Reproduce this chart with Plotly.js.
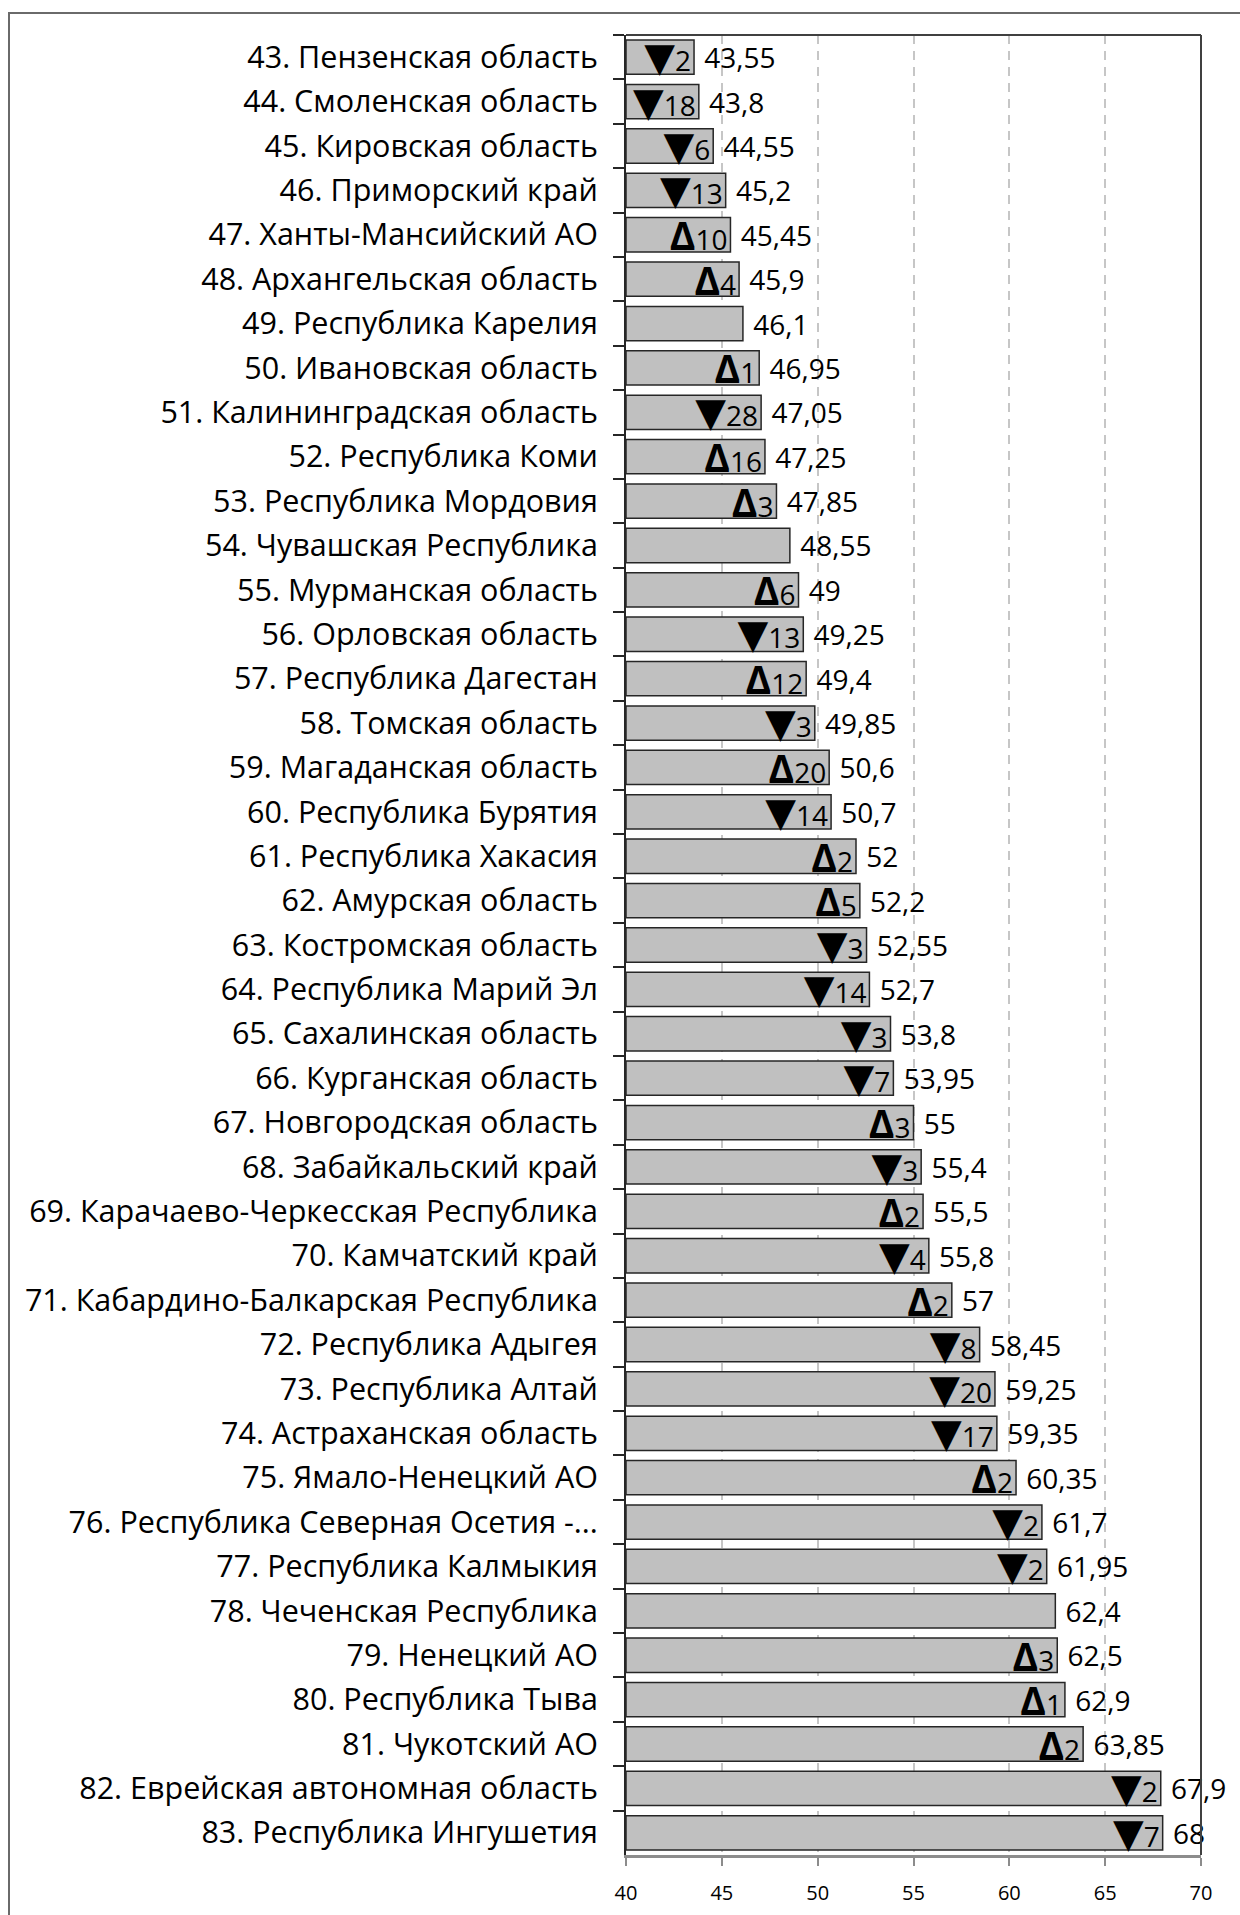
<!DOCTYPE html>
<html>
<head>
<meta charset="utf-8">
<script src="https://cdn.plot.ly/plotly-3.0.1.min.js"></script>
<style>
  html, body { margin: 0; padding: 0; background: #fff; overflow: hidden; }
  #chart { width: 1240px; height: 1915px; }
  #frame { position: absolute; left: 8px; top: 12px; width: 1300px; height: 2000px;
           border-left: 2px solid #6a6a6a; border-top: 2px solid #6a6a6a; pointer-events: none; }
</style>
</head>
<body>
<div id="chart"></div>
<div id="frame"></div>
<script>
const categories = [
  "43. Пензенская область",
  "44. Смоленская область",
  "45. Кировская область",
  "46. Приморский край",
  "47. Ханты-Мансийский АО",
  "48. Архангельская область",
  "49. Республика Карелия",
  "50. Ивановская область",
  "51. Калининградская область",
  "52. Республика Коми",
  "53. Республика Мордовия",
  "54. Чувашская Республика",
  "55. Мурманская область",
  "56. Орловская область",
  "57. Республика Дагестан",
  "58. Томская область",
  "59. Магаданская область",
  "60. Республика Бурятия",
  "61. Республика Хакасия",
  "62. Амурская область",
  "63. Костромская область",
  "64. Республика Марий Эл",
  "65. Сахалинская область",
  "66. Курганская область",
  "67. Новгородская область",
  "68. Забайкальский край",
  "69. Карачаево-Черкесская Республика",
  "70. Камчатский край",
  "71. Кабардино-Балкарская Республика",
  "72. Республика Адыгея",
  "73. Республика Алтай",
  "74. Астраханская область",
  "75. Ямало-Ненецкий АО",
  "76. Республика Северная Осетия -...",
  "77. Республика Калмыкия",
  "78. Чеченская Республика",
  "79. Ненецкий АО",
  "80. Республика Тыва",
  "81. Чукотский АО",
  "82. Еврейская автономная область",
  "83. Республика Ингушетия"
];

const values = [
  43.55, 43.8, 44.55, 45.2, 45.45, 45.9, 46.1, 46.95, 47.05, 47.25,
  47.85, 48.55, 49, 49.25, 49.4, 49.85, 50.6, 50.7, 52, 52.2,
  52.55, 52.7, 53.8, 53.95, 55, 55.4, 55.5, 55.8, 57, 58.45,
  59.25, 59.35, 60.35, 61.7, 61.95, 62.4, 62.5, 62.9, 63.85, 67.9,
  68
];

// rank change direction: "down" (▼), "up" (Δ), "" (no change)
const changeDir = [
  "down", "down", "down", "down", "up", "up", "", "up", "down", "up",
  "up", "", "up", "down", "up", "down", "up", "down", "up", "up",
  "down", "down", "down", "down", "up", "down", "up", "down", "up", "down",
  "down", "down", "up", "down", "down", "", "up", "up", "up", "down",
  "down"
];

const changeVal = [
  2, 18, 6, 13, 10, 4, null, 1, 28, 16,
  3, null, 6, 13, 12, 3, 20, 14, 2, 5,
  3, 14, 3, 7, 3, 3, 2, 4, 2, 8,
  20, 17, 2, 2, 2, null, 3, 1, 2, 2,
  7
];

const xTickVals = [40, 45, 50, 55, 60, 65, 70];
const axisStart = 40;

const FONT = "'Open Sans', 'Noto Sans', 'DejaVu Sans', sans-serif";

const badgeText = changeDir.map((d, i) => {
  if (d === "down") return '<span style="font-family:\'DejaVu Sans\';font-size:40px">▼</span>' + changeVal[i];
  if (d === "up") return '<b><span style="font-size:39px">Δ</span></b>' + changeVal[i];
  return "";
});

const valueText = values.map(v => "\u00A0" + String(v).replace(".", ","));
const barLengths = values.map(v => v - axisStart);

const barTrace = {
  type: "bar",
  orientation: "h",
  x: barLengths,
  base: axisStart,
  y: categories,
  marker: { color: "#c0c0c0", line: { color: "#262626", width: 1.5 } },
  text: badgeText,
  textposition: "inside",
  insidetextanchor: "end",
  constraintext: "none",
  textangle: 0,
  insidetextfont: { family: FONT, size: 28, color: "#000" },
  hoverinfo: "skip",
  cliponaxis: false
};

const valueTrace = {
  type: "bar",
  orientation: "h",
  x: barLengths,
  base: axisStart,
  y: categories,
  marker: { color: "rgba(0,0,0,0)", line: { width: 0 } },
  text: valueText,
  textposition: "outside",
  constraintext: "none",
  textangle: 0,
  outsidetextfont: { family: FONT, size: 28, color: "#000" },
  hoverinfo: "skip",
  cliponaxis: false
};

const layout = {
  width: 1240,
  height: 1915,
  margin: { l: 626, r: 39, t: 35, b: 60, pad: 0 },
  paper_bgcolor: "#ffffff",
  plot_bgcolor: "#ffffff",
  showlegend: false,
  barmode: "overlay",
  bargap: 0.227,
  font: { family: FONT, color: "#000" },
  xaxis: {
    range: [40, 70],
    autorange: false,
    tickmode: "array",
    tickvals: xTickVals,
    ticktext: xTickVals.map(String),
    ticks: "outside",
    ticklen: 8,
    tickwidth: 2,
    tickcolor: "#8c8c8c",
    tickfont: { family: FONT, size: 20, color: "#000" },
    ticklabelstandoff: 10,
    showline: true,
    linecolor: "#8c8c8c",
    linewidth: 2.5,
    showgrid: true,
    gridcolor: "#c6c6c6",
    gridwidth: 2,
    griddash: "9px,7px",
    zeroline: false,
    fixedrange: true
  },
  yaxis: {
    type: "category",
    autorange: false,
    range: [categories.length - 0.5, -0.5],
    ticks: "outside",
    tickson: "boundaries",
    ticklen: 11,
    tickwidth: 2,
    tickcolor: "#262626",
    tickfont: { family: FONT, size: 30.5, color: "#000" },
    ticklabelstandoff: 20,
    showline: true,
    linecolor: "#262626",
    linewidth: 2,
    showgrid: false,
    zeroline: false,
    fixedrange: true
  },
  shapes: [
    { type: "line", xref: "paper", yref: "paper", x0: 0, x1: 1, y0: 1, y1: 1,
      line: { color: "#404040", width: 2 } },
    { type: "line", xref: "paper", yref: "paper", x0: 1, x1: 1, y0: 0, y1: 1,
      line: { color: "#404040", width: 2 } }
  ]
};

Plotly.newPlot("chart", [barTrace, valueTrace], layout, { staticPlot: true, displayModeBar: false });
</script>
</body>
</html>
